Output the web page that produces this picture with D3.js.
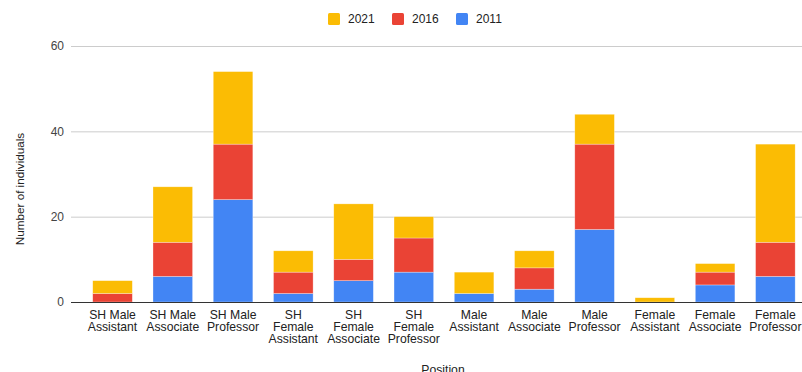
<!DOCTYPE html>
<html><head><meta charset="utf-8">
<script src="https://cdn.jsdelivr.net/npm/d3@7"></script>
<style>body{margin:0;background:#fff}svg{display:block;font-family:Arial,"Liberation Sans",sans-serif}</style>
</head><body><svg id="c" width="802" height="372"></svg>
<script>
const categories = ["SH Male Assistant","SH Male Associate","SH Male Professor","SH Female Assistant","SH Female Associate","SH Female Professor","Male Assistant","Male Associate","Male Professor","Female Assistant","Female Associate","Female Professor"];
const labelLines = [["SH Male","Assistant"],["SH Male","Associate"],["SH Male","Professor"],["SH","Female","Assistant"],["SH","Female","Associate"],["SH","Female","Professor"],["Male","Assistant"],["Male","Associate"],["Male","Professor"],["Female","Assistant"],["Female","Associate"],["Female","Professor"]];
const s2011 = [0,6,24,2,5,7,2,3,17,0,4,6];
const s2016 = [2,8,13,5,5,8,0,5,20,0,3,8];
const s2021 = [3,13,17,5,13,5,5,4,7,1,2,23];
const seriesNames = ["2011","2016","2021"];
const legendOrder = ["2021","2016","2011"];
const colors = {"2011":"#4285F4","2016":"#EA4335","2021":"#FBBC04"};
const yTicks = [0,20,40,60];

const svg = d3.select("#c");
const lineX0 = 71, lineX1 = 802;
const x = d3.scaleBand().domain(categories).range([82.4, 805.5]).paddingInner(0.343).paddingOuter(0.1715);
const y = d3.scaleLinear().domain([0,60]).range([302,46]);

// gridlines
svg.append("g").selectAll("line").data(yTicks.slice(1)).join("line")
  .attr("x1", lineX0).attr("x2", lineX1).attr("y1", d=>y(d)+0.5).attr("y2", d=>y(d)+0.5)
  .attr("stroke","#cccccc").attr("stroke-width",1);

// y tick labels
svg.append("g").selectAll("text").data(yTicks).join("text")
  .attr("x", 64).attr("y", d=>y(d)).attr("dy","0.35em").attr("text-anchor","end")
  .attr("font-size",12).attr("fill","#444").text(d=>d);

// stacked data
const rows = categories.map((c,i)=>({cat:c, "2011":s2011[i], "2016":s2016[i], "2021":s2021[i]}));
const stack = d3.stack().keys(seriesNames)(rows);
svg.append("g").selectAll("g").data(stack).join("g").attr("fill", d=>colors[d.key])
  .selectAll("rect").data(d=>d.filter(p=>p[1]-p[0]>0)).join("rect")
  .attr("x", d=>x(d.data.cat)).attr("width", x.bandwidth())
  .attr("y", d=>y(d[1])).attr("height", d=>y(d[0])-y(d[1]))
  .attr("stroke","rgba(255,255,255,0.5)").attr("stroke-width",0.6);

// baseline
svg.append("line").attr("x1", lineX0).attr("x2", lineX1).attr("y1", y(0)+0.5).attr("y2", y(0)+0.5)
  .attr("stroke","#333").attr("stroke-width",1);

// x labels
const xl = svg.append("g").selectAll("text").data(categories).join("text")
  .attr("text-anchor","middle").attr("font-size",12.2).attr("fill","#222")
  .attr("x", d=>x(d)+x.bandwidth()/2).attr("y", 319);
xl.each(function(d,i){
  d3.select(this).selectAll("tspan").data(labelLines[i]).join("tspan")
    .attr("x", x(d)+x.bandwidth()/2).attr("dy",(t,j)=>j===0?0:12).text(t=>t);
});

// axis titles
svg.append("text").attr("transform","translate(24,189) rotate(-90)").attr("text-anchor","middle")
  .attr("font-size",11.7).attr("fill","#222").text("Number of individuals");
svg.append("text").attr("x",443).attr("y",374).attr("text-anchor","middle")
  .attr("font-size",12.2).attr("fill","#222").text("Position");

// legend
const lx = [328,392,456];
const lg = svg.append("g").selectAll("g").data(legendOrder).join("g")
  .attr("transform",(d,i)=>`translate(${lx[i]},13)`);
lg.append("rect").attr("width",12).attr("height",12).attr("rx",1.5).attr("fill",d=>colors[d]);
lg.append("text").attr("x",20).attr("y",6).attr("dy","0.35em").attr("font-size",12).attr("fill","#222").text(d=>d);
</script></body></html>
